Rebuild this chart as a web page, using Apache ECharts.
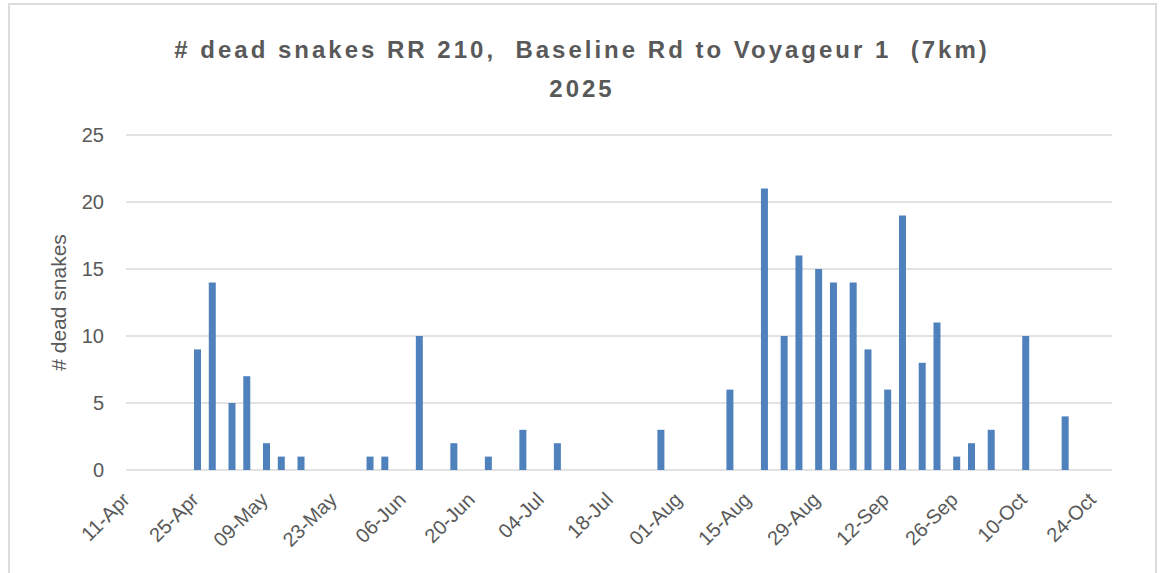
<!DOCTYPE html>
<html>
<head>
<meta charset="utf-8">
<script src="https://cdn.jsdelivr.net/npm/echarts@6/dist/echarts.min.js"></script>
<style>
  html, body { margin: 0; padding: 0; background: #ffffff; }
  #frame { position: absolute; left: 8px; top: 3px; width: 1149px; height: 580px; border: 2px solid #dcdcdc; box-sizing: border-box; }
  #chart { position: absolute; left: 0; top: 0; width: 1164px; height: 573px; }
  /* Excel-style spaced title lettering (title is the only bold text) */
  #chart svg text[style*="bold"], #chart svg text[font-weight="bold"] { letter-spacing: 3px; }
</style>
</head>
<body>
<div id="frame"></div>
<div id="chart"></div>
<script>
// ---- data ----
const titleLines = ['# dead snakes RR 210,  Baseline Rd to Voyageur 1  (7km)', '2025'];
const yAxisName = '# dead snakes';
const axisStartDate = '2025-04-11';
const axisDays = 200;          // axis span in days
const tickStepDays = 14;
const lastLabelDay = 196;      // 24-Oct
const monthNames = ['Jan','Feb','Mar','Apr','May','Jun','Jul','Aug','Sep','Oct','Nov','Dec'];
const dates = [
  '2025-04-25','2025-04-28','2025-05-02','2025-05-05','2025-05-09','2025-05-12','2025-05-16',
  '2025-05-30','2025-06-02','2025-06-09','2025-06-16','2025-06-23','2025-06-30','2025-07-07',
  '2025-07-28','2025-08-11','2025-08-18','2025-08-22','2025-08-25','2025-08-29','2025-09-01',
  '2025-09-05','2025-09-08','2025-09-12','2025-09-15','2025-09-19','2025-09-22','2025-09-26',
  '2025-09-29','2025-10-03','2025-10-10','2025-10-18'
];
const deadSnakes = [
  9,14,5,7,2,1,1,
  1,1,10,2,1,3,2,
  3,6,21,10,16,15,14,
  14,9,6,19,8,11,1,
  2,3,10,4
];

// ---- helpers ----
const DAY = 86400000;
function toUTC(s) { const p = s.split('-').map(Number); return Date.UTC(p[0], p[1]-1, p[2]); }
const startMs = toUTC(axisStartDate);
function dayOffset(s) { return (toUTC(s) - startMs) / DAY; }
function fmtDay(v) {
  if (v > lastLabelDay + 0.01) return '';
  const d = new Date(startMs + Math.round(v) * DAY);
  const dd = String(d.getUTCDate()).padStart(2, '0');
  return dd + '-' + monthNames[d.getUTCMonth()];
}
// each date occupies a one-day slot; the column sits at the slot centre
const seriesData = dates.map((d, i) => [dayOffset(d) + 0.5, deadSnakes[i]]);

const textColor = '#595959';
const fontFam = '"Liberation Sans", Arial, sans-serif';

const chart = echarts.init(document.getElementById('chart'), null, { renderer: 'svg' });
chart.setOption({
  animation: false,
  backgroundColor: 'transparent',
  title: {
    text: titleLines.join('\n'),
    left: 'center',
    top: 25,
    textStyle: { color: textColor, fontFamily: fontFam, fontWeight: 'bold', fontSize: 24, lineHeight: 39 }
  },
  grid: { left: 126, right: 52, top: 135, bottom: 103, containLabel: false },
  xAxis: {
    type: 'value',
    min: 0,
    max: axisDays,
    interval: tickStepDays,
    axisLine: { show: false },
    axisTick: { show: false },
    splitLine: { show: false },
    axisLabel: {
      rotate: 45,
      margin: 26,
      color: textColor,
      fontFamily: fontFam,
      fontSize: 20,
      showMaxLabel: true,
      showMinLabel: true,
      formatter: fmtDay
    }
  },
  yAxis: {
    type: 'value',
    min: 0,
    max: 25,
    interval: 5,
    name: yAxisName,
    nameLocation: 'middle',
    nameGap: 57,
    nameTextStyle: { color: textColor, fontFamily: fontFam, fontSize: 21 },
    axisLine: { show: false },
    axisTick: { show: false },
    axisLabel: { color: textColor, fontFamily: fontFam, fontSize: 20, margin: 22 },
    splitLine: { lineStyle: { color: '#d9d9d9', width: 1.5 } }
  },
  series: [{
    type: 'bar',
    data: seriesData,
    barWidth: 7,
    itemStyle: { color: '#4f81bd' }
  }]
});
</script>
</body>
</html>
